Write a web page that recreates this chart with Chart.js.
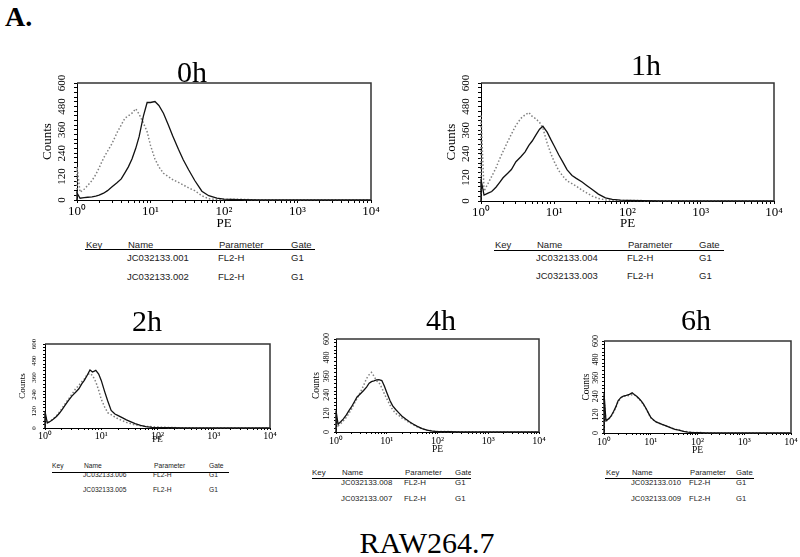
<!DOCTYPE html>
<html>
<head>
<meta charset="utf-8">
<script src="https://cdn.jsdelivr.net/npm/chart.js@4.4.1/dist/chart.umd.min.js"></script>
<style>
  body { margin: 0; background: #fff; }
  #page { position: relative; width: 800px; height: 557px; overflow: hidden; background: #fff; }
  canvas { position: absolute; }
  .txt { position: absolute; white-space: nowrap; line-height: 1; color: #000; font-family: "Liberation Serif", "Times New Roman", serif; }
  .lg { position: absolute; white-space: nowrap; line-height: 1; color: #222; font-family: "Liberation Sans", Arial, sans-serif; }
</style>
</head>
<body>
<div id="page"></div>
<script>
// PE channels shared by every histogram (first channel repeated for the edge spike)
const peChannels = [1, 1, 1.1, 1.25, 1.4, 1.6, 1.8, 2, 2.3, 2.6, 3, 3.5, 4, 4.5, 5, 5.6, 6.3, 7, 8, 9,
                    10, 11.5, 13, 15, 17.5, 20, 24, 28, 33, 40, 50, 62, 80, 100, 160, 300, 10000];

// counts, solid = treated, dotted = control
const solid0h  = [0, 36, 9, 12, 14, 16, 20, 25, 35, 48, 68, 88, 108, 140, 170, 210, 265, 325, 430, 500,
                  500, 505, 485, 445, 385, 330, 260, 205, 155, 100, 45, 22, 10, 5, 2, 0, 0];
const dotted0h = [0, 170, 40, 55, 75, 100, 130, 165, 215, 250, 290, 345, 385, 420, 432, 445, 468, 440, 395, 350,
                  280, 210, 170, 137, 120, 105, 90, 77, 62, 48, 22, 6, 3, 3, 4, 0, 0];
const solid1h  = [0, 110, 30, 40, 48, 70, 95, 118, 140, 160, 200, 225, 250, 283, 305, 335, 365, 380, 350, 312,
                  280, 235, 200, 158, 130, 115, 97, 78, 58, 35, 16, 8, 4, 3, 2, 0, 0];
const dotted1h = [0, 440, 50, 90, 125, 168, 215, 252, 300, 340, 385, 420, 438, 450, 430, 418, 400, 370, 295, 240,
                  200, 155, 128, 102, 88, 75, 55, 40, 25, 13, 6, 4, 3, 3, 2, 0, 0];
const solid2h  = [0, 119, 35, 48, 62, 82, 105, 130, 165, 195, 228, 255, 280, 315, 340, 375, 415, 400, 412, 385,
                  340, 260, 195, 125, 100, 88, 72, 58, 46, 32, 18, 10, 5, 3, 2, 0, 0];
const dotted2h = [0, 100, 35, 50, 65, 88, 112, 140, 175, 205, 240, 280, 305, 330, 350, 380, 390, 375, 330, 270,
                  205, 150, 110, 95, 78, 65, 52, 40, 32, 22, 16, 12, 9, 7, 4, 1, 0];
const solid4h  = [0, 138, 50, 68, 85, 110, 138, 160, 195, 226, 245, 268, 290, 315, 325, 330, 336, 338, 332, 295,
                  255, 205, 170, 145, 122, 102, 82, 66, 52, 36, 22, 12, 6, 3, 2, 0, 0];
const dotted4h = [0, 110, 40, 55, 72, 95, 120, 145, 185, 215, 255, 300, 345, 370, 385, 360, 330, 320, 285, 245,
                  215, 175, 145, 120, 105, 90, 75, 60, 47, 33, 20, 12, 6, 4, 3, 1, 0];
const solid6h  = [0, 260, 80, 92, 108, 140, 172, 210, 232, 240, 245, 252, 262, 250, 240, 225, 208, 188, 158, 128,
                  102, 85, 72, 65, 56, 50, 40, 32, 24, 18, 10, 6, 3, 2, 1, 0, 0];
const dotted6h = [0, 230, 75, 90, 105, 135, 168, 205, 228, 238, 242, 245, 250, 248, 238, 222, 205, 185, 155, 126,
                  100, 84, 72, 64, 56, 49, 40, 32, 25, 19, 12, 7, 4, 3, 2, 0, 0];

// axis ticks
const xMajorTicks = [1, 10, 100, 1000, 10000];
const xMinorSteps = [2, 3, 4, 5, 6, 7, 8, 9];
const xTickLabels = ['10\u2070', '10\u00B9', '10\u00B2', '10\u00B3', '10\u2074'];
const yLabelTicks = [0, 120, 240, 360, 480, 600];
const yMinorStep = 24;

// legend table text
const legendHeader = ['Key', 'Name', 'Parameter', 'Gate'];
const legendParam = 'FL2-H';
const legendGate = 'G1';

const SERIF = '"Liberation Serif", "Times New Roman", serif';
Chart.defaults.font.family = SERIF;
Chart.defaults.color = '#000';

const page = document.getElementById('page');

const xTicks = [];
xMajorTicks.forEach((d, i) => {
    xTicks.push(d);
    if (i < xMajorTicks.length - 1) xMinorSteps.forEach(m => xTicks.push(m * d));
});
const yTicks = [];
for (let v = 0; v <= 600; v += yMinorStep) yTicks.push(v);

const panels = [
    { title: '0h', solid: solid0h, dotted: dotted0h, files: ['JC032133.001', 'JC032133.002'],
      box: { l: 77, t: 83, r: 371, b: 200 }, yW: 36, xH: 30, padR: 16, tl: 3,
      yFont: 11, yPad: 4, xFont: 13, xPad: 1, axFont: 13,
      titleX: 192, titleBase: 82,
      legend: { x0: 85, x1: 314, line: 249, head: 248, cols: [86, 128, 219, 291], rows: [261, 280], font: 9.5 } },
    { title: '1h', solid: solid1h, dotted: dotted1h, files: ['JC032133.004', 'JC032133.003'],
      box: { l: 481, t: 83, r: 774, b: 201 }, yW: 36, xH: 29, padR: 16, tl: 3,
      yFont: 11, yPad: 4, xFont: 13, xPad: 1, axFont: 13,
      titleX: 646, titleBase: 75,
      legend: { x0: 494, x1: 723, line: 250, head: 248, cols: [495, 537, 628, 699], rows: [261, 279], font: 9.5 } },
    { title: '2h', solid: solid2h, dotted: dotted2h, files: ['JC032133.006', 'JC032133.005'],
      box: { l: 45, t: 344, r: 270, b: 428 }, yW: 27, xH: 16, padR: 14, tl: 2,
      yFont: 7, yPad: 4, xFont: 10, xPad: 0, axFont: 9,
      titleX: 147, titleBase: 331,
      legend: { x0: 52, x1: 228, line: 472, head: 469, cols: [52, 84, 154, 209], rows: [478, 493], font: 6.7 } },
    { title: '4h', solid: solid4h, dotted: dotted4h, files: ['JC032133.008', 'JC032133.007'],
      box: { l: 336, t: 339, r: 539, b: 432 }, yW: 24, xH: 22, padR: 14, tl: 2,
      yFont: 8, yPad: 1, xFont: 10, xPad: 1, axFont: 9.5,
      titleX: 441, titleBase: 330,
      legend: { x0: 312, x1: 470, line: 478, head: 476, cols: [312, 342, 405, 455], rows: [486, 502], font: 7.9 } },
    { title: '6h', solid: solid6h, dotted: dotted6h, files: ['JC032133.010', 'JC032133.009'],
      box: { l: 604, t: 341, r: 791, b: 433 }, yW: 22, xH: 22, padR: 9, tl: 2,
      yFont: 8, yPad: 0, xFont: 10, xPad: 1, axFont: 9.5,
      titleX: 696, titleBase: 330,
      legend: { x0: 605, x1: 753, line: 478, head: 476, cols: [606, 632, 690, 736], rows: [486, 502], font: 7.7 } }
];

// top and right edges of the plot frame
const framePlugin = {
    id: 'frame',
    afterDatasetsDraw(chart) {
        const { ctx, chartArea: a } = chart;
        ctx.save();
        ctx.strokeStyle = '#333';
        ctx.lineWidth = 1.5;
        ctx.beginPath();
        ctx.moveTo(a.left, a.top);
        ctx.lineTo(a.right, a.top);
        ctx.lineTo(a.right, a.bottom);
        ctx.stroke();
        ctx.restore();
    }
};

function addText(text, x, base, size, extra) {
    const d = document.createElement('div');
    d.className = 'txt';
    d.textContent = text;
    d.style.fontSize = size + 'px';
    d.style.left = x + 'px';
    d.style.top = (base - 0.84 * size) + 'px';
    if (extra) Object.assign(d.style, extra);
    page.appendChild(d);
}

function addLegend(p) {
    const g = p.legend;
    const top0 = g.head - 14;
    const wrap = document.createElement('div');
    wrap.style.cssText = `position:absolute;left:${g.x0}px;top:${top0}px;width:${g.x1 - g.x0 + 1}px;` +
        `height:${g.rows[1] - top0 + 6}px;overflow:hidden;`;
    page.appendChild(wrap);
    const put = (t, x, base) => {
        const d = document.createElement('div');
        d.className = 'lg';
        d.textContent = t;
        d.style.fontSize = g.font + 'px';
        d.style.left = (x - g.x0) + 'px';
        d.style.top = (base - top0 - 0.85 * g.font) + 'px';
        wrap.appendChild(d);
    };
    legendHeader.forEach((h, i) => put(h, g.cols[i], g.head));
    p.files.forEach((f, r) => {
        put(f, g.cols[1] - 1, g.rows[r]);
        put(legendParam, g.cols[2] - 1, g.rows[r]);
        put(legendGate, g.cols[3], g.rows[r]);
    });
    const line = document.createElement('div');
    line.style.cssText = `position:absolute;left:0;top:${g.line - top0}px;width:100%;height:1px;background:#000;`;
    wrap.appendChild(line);
}

function makeChart(p) {
    const padTop = 12;
    const w = p.yW + (p.box.r - p.box.l) + p.padR;
    const h = padTop + (p.box.b - p.box.t) + p.xH;
    const canvas = document.createElement('canvas');
    canvas.width = w;
    canvas.height = h;
    canvas.style.width = w + 'px';
    canvas.style.height = h + 'px';
    canvas.style.left = (p.box.l - p.yW) + 'px';
    canvas.style.top = (p.box.t - padTop) + 'px';
    page.appendChild(canvas);

    new Chart(canvas, {
        type: 'line',
        data: {
            datasets: [
                {
                    data: peChannels.map((x, i) => ({ x: x, y: p.solid[i] })),
                    borderColor: '#111',
                    borderWidth: 1.3,
                    pointRadius: 0,
                    tension: 0,
                    clip: 3
                },
                {
                    data: peChannels.map((x, i) => ({ x: x, y: p.dotted[i] })),
                    borderColor: '#808080',
                    borderWidth: 1.5,
                    borderDash: [1.5, 2],
                    pointRadius: 0,
                    tension: 0,
                    clip: 3
                }
            ]
        },
        options: {
            responsive: false,
            animation: false,
            devicePixelRatio: 1,
            layout: { padding: { top: padTop, right: p.padR, left: 0, bottom: 0 } },
            plugins: { legend: { display: false }, tooltip: { enabled: false } },
            scales: {
                x: {
                    type: 'logarithmic',
                    min: 1,
                    max: 10000,
                    afterBuildTicks: s => { s.ticks = xTicks.map(v => ({ value: v })); },
                    afterFit: s => { s.height = p.xH; s.paddingLeft = 0; s.paddingRight = 0; },
                    ticks: {
                        autoSkip: false,
                        minRotation: 0,
                        maxRotation: 0,
                        padding: p.xPad,
                        font: { size: p.xFont },
                        color: '#000',
                        callback: v => {
                            const i = xMajorTicks.indexOf(v);
                            return i >= 0 ? xTickLabels[i] : '';
                        }
                    },
                    grid: { drawOnChartArea: false, drawTicks: true, tickLength: p.tl, color: '#000' },
                    border: { color: '#000', width: 1 },
                    title: { display: true, text: 'PE', padding: 0, color: '#000',
                             font: { size: p.axFont, lineHeight: 1 } }
                },
                y: {
                    type: 'linear',
                    min: 0,
                    max: 600,
                    afterBuildTicks: s => { s.ticks = yTicks.map(v => ({ value: v })); },
                    afterFit: s => { s.width = p.yW; s.paddingTop = 0; s.paddingBottom = 0; },
                    ticks: {
                        autoSkip: false,
                        minRotation: 90,
                        maxRotation: 90,
                        crossAlign: 'center',
                        padding: p.yPad,
                        font: { size: p.yFont },
                        color: '#000',
                        callback: v => (yLabelTicks.indexOf(v) >= 0 ? String(v) : '')
                    },
                    grid: { drawOnChartArea: false, drawTicks: true, tickLength: p.tl, color: '#000' },
                    border: { color: '#000', width: 1 },
                    title: { display: true, text: 'Counts', padding: 0, color: '#000',
                             font: { size: p.axFont, lineHeight: 1 } }
                }
            }
        },
        plugins: [framePlugin]
    });

    addText(p.title, p.titleX, p.titleBase, 30, { transform: 'translateX(-50%)' });
    addLegend(p);
}

panels.forEach(makeChart);

addText('A.', 5, 27, 28, { fontWeight: 'bold' });
addText('RAW264.7', 427, 553, 30, { transform: 'translateX(-50%)' });
</script>
</body>
</html>
